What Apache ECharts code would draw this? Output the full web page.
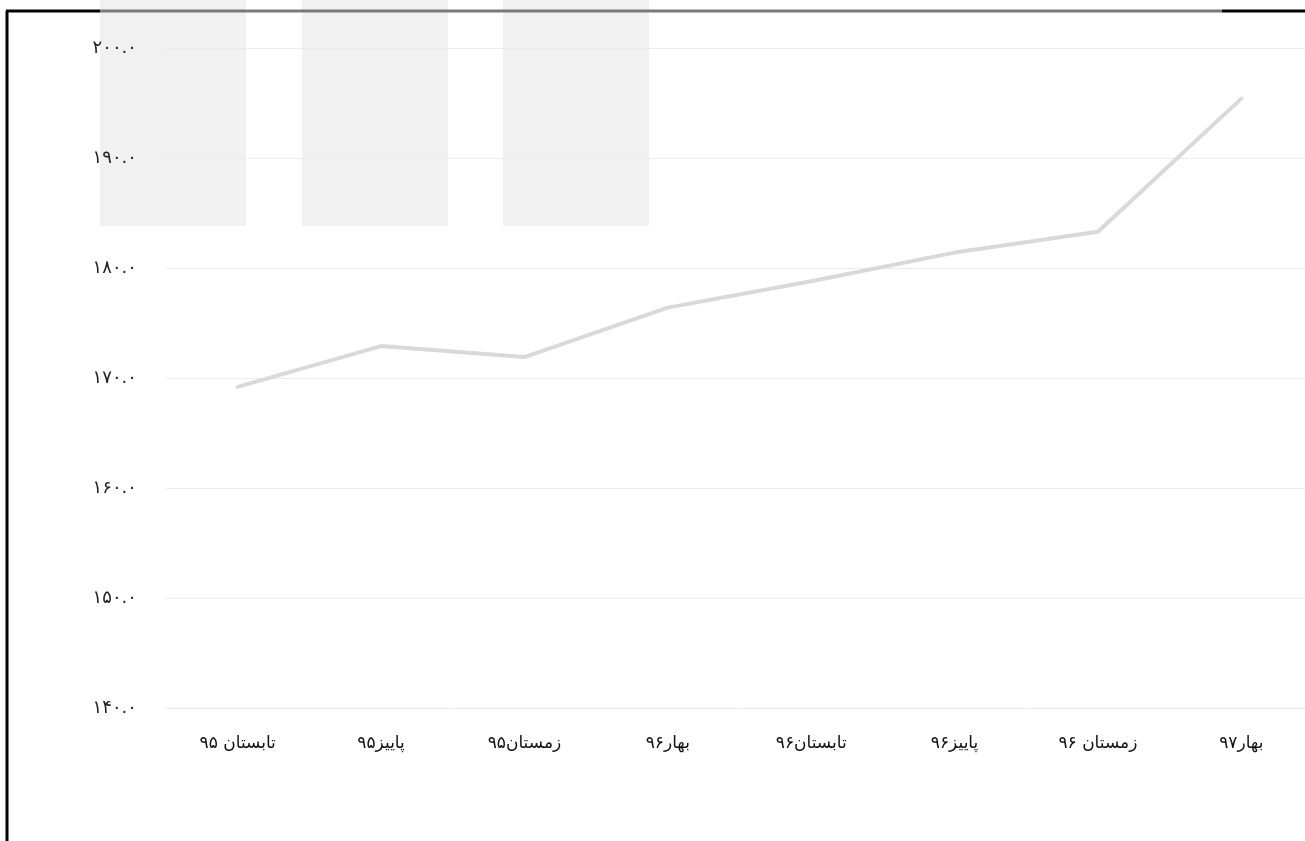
<!DOCTYPE html>
<html>
<head>
<meta charset="utf-8">
<script src="https://cdn.jsdelivr.net/npm/echarts@6/dist/echarts.min.js"></script>
<style>
  html, body { margin: 0; padding: 0; background: #fff; overflow: hidden; }
  #main { width: 1313px; height: 841px; }
</style>
</head>
<body>
<div id="main"></div>
<script>
// فصل ها
var categories = ['تابستان ۹۵', 'پاییز۹۵', 'زمستان۹۵', 'بهار۹۶', 'تابستان۹۶', 'پاییز۹۶', 'زمستان ۹۶', 'بهار۹۷']
// مقادیر خوانده شده از تصویر
var values = [169.2, 172.9, 171.9, 176.4, 178.8, 181.4, 183.3, 195.4]
var yMin = 140
var yMax = 200
var yStep = 10

var faDigits = '۰۱۲۳۴۵۶۷۸۹'
function toFa(str) {
  return String(str).replace(/[0-9]/g, function (d) { return faDigits[+d] })
}

// نمودار کمی پهن تر از پنجره است تا آخرین ستون مثل اصل بیرون بزند
var chart = echarts.init(document.getElementById('main'))
var option = {
  animation: false,
  backgroundColor: '#fff',
  grid: { left: 166, right: 0, top: 48, bottom: 133 },
  xAxis: {
    type: 'category',
    boundaryGap: true,
    data: categories,
    axisTick: { show: false },
    axisLine: { lineStyle: { color: '#e6e6e6', width: 1 } },
    axisLabel: { color: '#111', fontSize: 17, margin: 27, fontFamily: 'DejaVu Sans' }
  },
  yAxis: {
    type: 'value',
    min: yMin,
    max: yMax,
    interval: yStep,
    axisLine: { show: false },
    axisTick: { show: false },
    splitLine: { lineStyle: { color: '#ebebeb', width: 1 } },
    axisLabel: {
      color: '#222',
      fontSize: 18,
      margin: 29,
      fontFamily: 'DejaVu Sans',
      formatter: function (v) { return toFa(v.toFixed(1)) }
    }
  },
  series: [
    {
      type: 'line',
      data: values,
      symbol: 'none',
      lineStyle: { color: '#d9d9d9', width: 4, cap: 'round', join: 'round' },
      z: 3
    }
  ],
  graphic: [
    // کادر
    { type: 'line', shape: { x1: 7, y1: 11, x2: 7, y2: 841 }, style: { stroke: '#000', lineWidth: 3 }, z: 10 },
    { type: 'line', shape: { x1: 6, y1: 11, x2: 100, y2: 11 }, style: { stroke: '#000', lineWidth: 3 }, z: 10 },
    { type: 'line', shape: { x1: 100, y1: 11, x2: 1222, y2: 11 }, style: { stroke: '#7a7a7a', lineWidth: 3 }, z: 10 },
    { type: 'line', shape: { x1: 1222, y1: 11, x2: 1313, y2: 11 }, style: { stroke: '#000', lineWidth: 3 }, z: 10 },
    // نشان کمرنگ
    { type: 'rect', shape: { x: 100, y: 0, width: 146, height: 226 }, style: { fill: '#f1f1f1' }, z: -1 },
    { type: 'rect', shape: { x: 302, y: 0, width: 146, height: 226 }, style: { fill: '#f1f1f1' }, z: -1 },
    { type: 'rect', shape: { x: 503, y: 0, width: 146, height: 226 }, style: { fill: '#f1f1f1' }, z: -1 }
  ]
}
chart.setOption(option)
</script>
</body>
</html>
